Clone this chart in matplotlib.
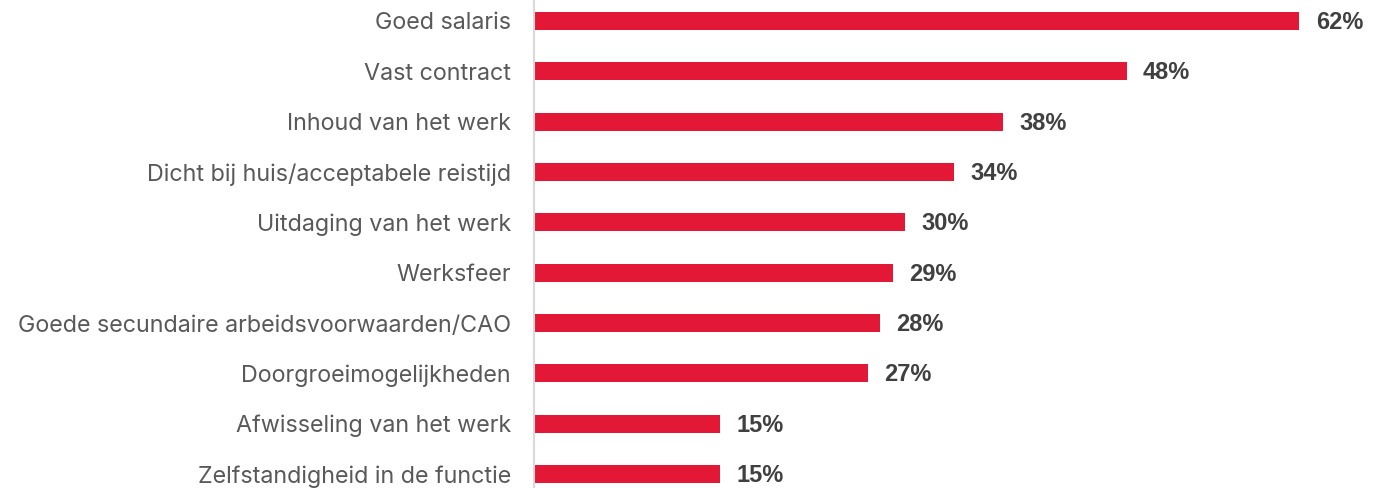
import matplotlib
matplotlib.use('Agg')
import matplotlib.pyplot as plt

categorieen = ['Goed salaris', 'Vast contract', 'Inhoud van het werk',
               'Dicht bij huis/acceptabele reistijd', 'Uitdaging van het werk',
               'Werksfeer', 'Goede secundaire arbeidsvoorwaarden/CAO',
               'Doorgroeimogelijkheden', 'Afwisseling van het werk',
               'Zelfstandigheid in de functie']
percentages = [62, 48, 38, 34, 30, 29, 28, 27, 15, 15]
labels = ['62%', '48%', '38%', '34%', '30%', '29%', '28%', '27%', '15%', '15%']

fig = plt.figure(figsize=(13.81, 4.88), dpi=100)
ax = fig.add_axes([534 / 1381, 0, 1 - 534 / 1381, 1])

posities = list(range(len(categorieen)))
ax.barh(posities, percentages, height=0.36, color='#e31837', left=0.08)

for p, v, t in zip(posities, percentages, labels):
    ax.text(v + 1.4, p + 0.03, t, va='center', ha='left', fontsize=17,
            fontweight='bold', color='#404040', family='Liberation Sans')

ax.set_ylim(9.278, -0.417)
ax.set_xlim(0, 68.7)
ax.set_yticks(posities)
ax.set_yticklabels(categorieen, fontsize=16.8, color='#595959', family='Inter')
ax.tick_params(axis='y', length=0, pad=16.5)
ax.set_xticks([])

for s in ['top', 'right', 'bottom']:
    ax.spines[s].set_visible(False)
ax.spines['left'].set_color('#d9d9d9')
ax.spines['left'].set_linewidth(1.5)

fig.savefig('out.png', dpi=100)
